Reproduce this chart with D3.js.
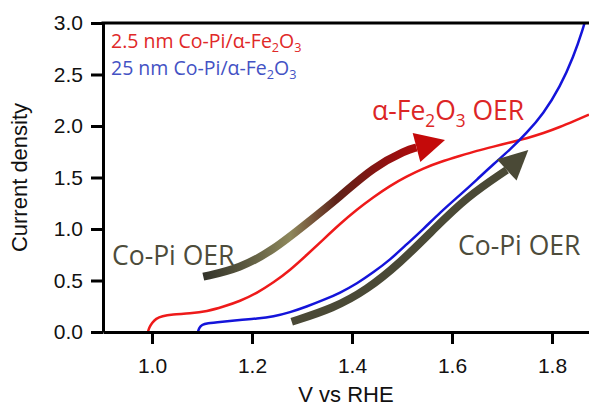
<!DOCTYPE html>
<html>
<head>
<meta charset="utf-8">
<script src="https://cdn.jsdelivr.net/npm/d3@7"></script>
<style>
  body { margin: 0; background: #fff; }
</style>
</head>
<body>
<div class="container"></div>
<script>
const w = 589
const h = 408
const margin = {left: 103, top: 23, right: 0, bottom: 76}

const xTicks = [1.0, 1.2, 1.4, 1.6, 1.8]
const yTicks = [0, 0.5, 1.0, 1.5, 2.0, 2.5, 3.0]

// 2.5 nm Co-Pi / a-Fe2O3  [V, current]
const thinCoPi = [[0.992,0],[0.994,0.04],[1.0,0.09],[1.008,0.13],[1.02,0.155],[1.04,0.17],[1.076,0.18],
  [1.11,0.2],[1.143,0.246],[1.176,0.3],[1.209,0.376],[1.243,0.48],[1.276,0.6],[1.31,0.75],[1.343,0.9],
  [1.376,1.05],[1.41,1.19],[1.443,1.31],[1.476,1.42],[1.509,1.51],[1.543,1.59],[1.576,1.65],[1.616,1.71],
  [1.65,1.76],[1.683,1.8],[1.716,1.84],[1.749,1.88],[1.783,1.93],[1.816,1.99],[1.845,2.05],[1.874,2.11]]

// 25 nm Co-Pi / a-Fe2O3
const thickCoPi = [[1.092,0],[1.094,0.04],[1.1,0.07],[1.109,0.085],[1.14,0.1],[1.176,0.117],[1.21,0.13],[1.243,0.149],
  [1.276,0.19],[1.309,0.246],[1.343,0.31],[1.376,0.38],[1.41,0.47],[1.443,0.58],[1.476,0.7],[1.509,0.85],
  [1.543,1.0],[1.576,1.16],[1.616,1.33],[1.65,1.48],[1.683,1.63],[1.716,1.77],[1.749,1.93],[1.783,2.12],
  [1.816,2.38],[1.843,2.67],[1.863,2.96],[1.868,3.05]]

// annotation arrows, last point is the tip
const arrowFe = [[1.1026,0.537],[1.176,0.618],[1.2426,0.796],[1.3094,1.055],[1.376,1.314],[1.442,1.6],
  [1.5094,1.767],[1.529,1.791],[1.586,1.864]]
const arrowCoPi = [[1.2794,0.1],[1.3626,0.23],[1.4294,0.408],[1.496,0.67],[1.562,0.99],[1.6294,1.311],
  [1.7094,1.573],[1.7526,1.767]]

const svg = d3.select(".container")
              .append("svg")
              .attr("width", w)
              .attr("height", h)
              .style("font-family", "'Liberation Sans', Arial, sans-serif")

const xScale = d3.scaleLinear()
                 .domain([0.902, 1.874])
                 .range([margin.left, w - margin.right])

const yScale = d3.scaleLinear()
                 .domain([0, 3])
                 .range([h - margin.bottom, margin.top])

svg.append("defs").append("clipPath")
   .attr("id", "plot")
   .append("rect")
     .attr("x", margin.left).attr("y", margin.top)
     .attr("width", w - margin.left).attr("height", h - margin.bottom - margin.top)

const grad = svg.select("defs").append("linearGradient")
                .attr("id", "feGrad")
                .attr("gradientUnits", "userSpaceOnUse")
                .attr("x1", xScale(arrowFe[0][0])).attr("x2", xScale(arrowFe[arrowFe.length - 1][0]))
                .attr("y1", 0).attr("y2", 0)
const stops = [[0, "#33332a"], [0.18, "#5c5a40"], [0.36, "#8e885c"], [0.55, "#5e2218"], [0.78, "#961010"], [1, "#c80808"]]
stops.forEach(s => grad.append("stop").attr("offset", s[0]).attr("stop-color", s[1]))

const line = d3.line()
               .x(d => xScale(d[0]))
               .y(d => yScale(d[1]))
               .curve(d3.curveBasis)

const curves = svg.append("g").attr("clip-path", "url(#plot)")
curves.append("path")
      .attr("d", line(thinCoPi))
      .attr("fill", "none").attr("stroke", "#ee1a1a").attr("stroke-width", 2.5)
curves.append("path")
      .attr("d", line(thickCoPi))
      .attr("fill", "none").attr("stroke", "#1414da").attr("stroke-width", 2.5)

// arrows
const arrowLine = d3.line()
                    .x(d => xScale(d[0]))
                    .y(d => yScale(d[1]))
                    .curve(d3.curveBasis)

function drawArrow(pts, stroke, head, halfW) {
  const shaft = pts.slice(0, -1)
  const tip = [xScale(pts[pts.length - 1][0]), yScale(pts[pts.length - 1][1])]
  const base = [xScale(shaft[shaft.length - 1][0]), yScale(shaft[shaft.length - 1][1])]
  const dx = tip[0] - base[0], dy = tip[1] - base[1]
  const len = Math.hypot(dx, dy)
  const nx = -dy / len * halfW, ny = dx / len * halfW
  svg.append("path")
     .attr("d", arrowLine(shaft))
     .attr("fill", "none")
     .attr("stroke", stroke)
     .attr("stroke-width", 8)
  svg.append("path")
     .attr("d", `M${base[0] + nx},${base[1] + ny}L${tip[0]},${tip[1]}L${base[0] - nx},${base[1] - ny}Z`)
     .attr("fill", head)
}
drawArrow(arrowFe, "url(#feGrad)", "#c40a0a", 15)
drawArrow(arrowCoPi, "#4a4936", "#4a4936", 14.5)

// axes
const xAxis = d3.axisBottom(xScale)
                .tickValues(xTicks)
                .tickFormat(d3.format(".1f"))
                .tickSize(12)
                .tickSizeOuter(0)
                .tickPadding(14)

const yAxis = d3.axisLeft(yScale)
                .tickValues(yTicks)
                .tickFormat(d3.format(".1f"))
                .tickSize(12)
                .tickSizeOuter(0)
                .tickPadding(8)

const gx = svg.append("g")
              .attr("transform", `translate(0, ${h - margin.bottom})`)
              .call(xAxis)
const gy = svg.append("g")
              .attr("transform", `translate(${margin.left}, 0)`)
              .call(yAxis)

;[gx, gy].forEach(g => {
  g.select(".domain").attr("stroke-width", 3)
  g.selectAll(".tick line").attr("stroke-width", 3)
  g.selectAll(".tick text")
   .attr("font-size", 21)
   .attr("font-family", "'Liberation Sans', Arial, sans-serif")
   .attr("fill", "#111")
})

svg.append("line")
   .attr("x1", margin.left - 1.5).attr("x2", w)
   .attr("y1", margin.top).attr("y2", margin.top)
   .attr("stroke", "#000").attr("stroke-width", 3)

svg.append("text")
   .attr("x", (margin.left + w) / 2)
   .attr("y", 402)
   .attr("text-anchor", "middle")
   .attr("font-size", 22)
   .attr("fill", "#111")
   .text("V vs RHE")

svg.append("text")
   .attr("transform", `translate(27, ${(margin.top + h - margin.bottom) / 2}) rotate(-90)`)
   .attr("text-anchor", "middle")
   .attr("font-size", 22)
   .attr("fill", "#111")
   .text("Current density")

// labels with subscripts
function richText(x, y, size, color, parts, shift) {
  const t = svg.append("text")
               .attr("x", x).attr("y", y)
               .attr("font-family", "'Open Sans', sans-serif")
               .attr("font-size", size)
               .attr("fill", color)
  let down = false
  parts.forEach(p => {
    const sub = p[1]
    const s = t.append("tspan").text(p[0])
    if (sub && !down) { s.attr("dy", size * shift).attr("font-size", size * 0.65); down = true }
    else if (!sub && down) { s.attr("dy", -size * shift); down = false }
    else if (sub) s.attr("font-size", size * 0.65)
  })
}

richText(111, 48, 19.5, "#e02828", [["2.5 nm Co-Pi/α-Fe"], ["2", true], ["O"], ["3", true]], 0.2)
richText(111, 75, 19.5, "#4452c4", [["25 nm Co-Pi/α-Fe"], ["2", true], ["O"], ["3", true]], 0.2)
richText(372, 120, 26.5, "#dc2626", [["α-Fe"], ["2", true], ["O"], ["3", true], [" OER"]], 0.28)
richText(112, 265, 26.5, "#4d4c3b", [["Co-Pi OER"]], 0)
richText(458, 255, 26.5, "#4d4c3b", [["Co-Pi OER"]], 0)
</script>
</body>
</html>
